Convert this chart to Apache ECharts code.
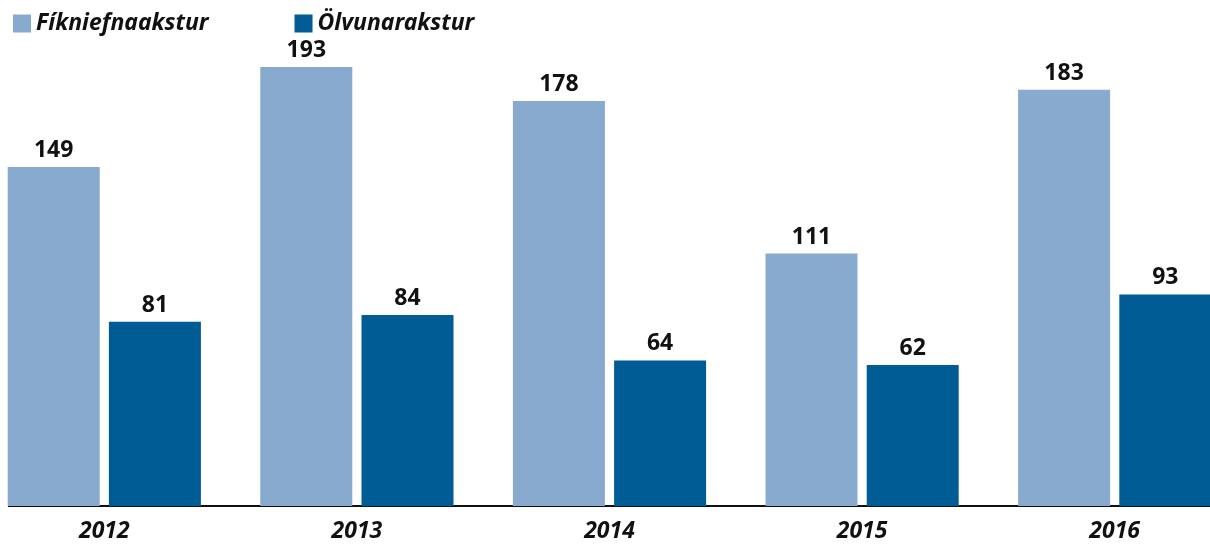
<!DOCTYPE html>
<html><head><meta charset="utf-8">
<script src="https://cdn.jsdelivr.net/npm/echarts@6/dist/echarts.min.js"></script>
<style>html,body{margin:0;padding:0;background:#fff;overflow:hidden;width:1210px;height:545px}#c{width:1263px;height:545px;margin-left:-22px}</style>
</head><body><div id="c"></div>
<script>
var categories = ['2012','2013','2014','2015','2016'];
var seriesNames = ['Fíkniefnaakstur','Ölvunarakstur'];
var fikniefna = [149,193,178,111,183];
var olvunar = [81,84,64,62,93];

var chart = echarts.init(document.getElementById('c'));
var lbl = {show:true, position:'top', distance:5, color:'#111', fontFamily:'Noto Sans', fontWeight:'bold', fontSize:23};
chart.setOption({
  animation:false,
  legend:{left:30, top:7, itemWidth:18, itemHeight:18, itemGap:86, icon:'rect',
    textStyle:{fontFamily:'Noto Sans', fontStyle:'italic', fontWeight:'bold', fontSize:23, color:'#111'}},
  grid:{left:0, right:0, top:51, bottom:39},
  xAxis:{type:'category', data:categories,
    axisLine:{show:false}, axisTick:{show:false},
    axisLabel:{margin:14, fontFamily:'Noto Sans', fontStyle:'italic', fontWeight:'bold', fontSize:23, color:'#111'}},
  yAxis:{type:'value', min:0, max:200, show:false, splitLine:{show:false}},
  graphic:[{type:'line', shape:{x1:30, y1:506, x2:1240, y2:506}, style:{stroke:'#111', lineWidth:2}}],
  series:[
    {name:seriesNames[0], type:'bar', data:fikniefna, barWidth:92, barGap:'10%', itemStyle:{color:'#88AACF'}, label:lbl},
    {name:seriesNames[1], type:'bar', data:olvunar, barWidth:92, itemStyle:{color:'#005C94'}, label:lbl}
  ]
});
</script></body></html>
